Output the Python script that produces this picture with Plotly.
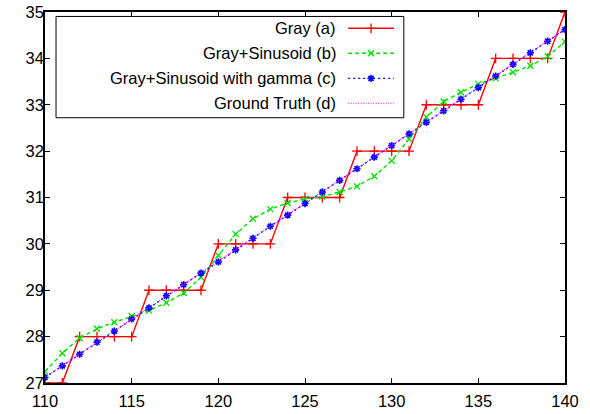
import plotly.graph_objects as go

# ---- data ----
x = list(range(110, 141))
gray = [27, 27, 28, 28, 28, 28, 29, 29, 29, 29, 30, 30, 30, 30, 31, 31, 31, 31,
        32, 32, 32, 32, 33, 33, 33, 33, 34, 34, 34, 34, 35]
gray_sin = [27.25, 27.64, 27.97, 28.17, 28.31, 28.44, 28.56, 28.73, 28.94, 29.28,
            29.75, 30.21, 30.54, 30.75, 30.88, 30.97, 31.02, 31.12, 31.24, 31.46,
            31.79, 32.26, 32.73, 33.07, 33.27, 33.45, 33.57, 33.70, 33.84, 34.04, 34.36]
gray_sin_gamma = [27.12, 27.37, 27.62, 27.88, 28.12, 28.38, 28.62, 28.88, 29.12, 29.37,
                  29.61, 29.87, 30.12, 30.38, 30.62, 30.87, 31.12, 31.37, 31.62, 31.87,
                  32.12, 32.37, 32.62, 32.87, 33.12, 33.37, 33.62, 33.87, 34.12, 34.37, 34.62]
ground_truth = [27.125, 27.375, 27.625, 27.875, 28.125, 28.375, 28.625, 28.875, 29.125, 29.375,
                29.625, 29.875, 30.125, 30.375, 30.625, 30.875, 31.125, 31.375, 31.625, 31.875,
                32.125, 32.375, 32.625, 32.875, 33.125, 33.375, 33.625, 33.875, 34.125, 34.375, 34.625]
names = ["Gray (a)", "Gray+Sinusoid (b)", "Gray+Sinusoid with gamma (c)", "Ground Truth (d)"]

# ---- styles ----
FONT = "Liberation Sans, Arial, Helvetica, sans-serif"
FSIZE = 16.5
styles = [
    dict(color="#ff0000", dash="solid", width=1.4, symbol="cross-thin", msize=7, mw=1.3),
    dict(color="#00e000", dash="4px,3px", width=1.4, symbol="x-thin", msize=6, mw=1.3),
    dict(color="#0000ff", dash="2px,3px", width=1.4, symbol="asterisk", msize=6, mw=1.6),
    dict(color="#ff00ff", dash="1px,1.5px", width=1.2, symbol=None, msize=0, mw=0),
]
series = [gray, gray_sin, gray_sin_gamma, ground_truth]

fig = go.Figure()
for ys, nm, st in zip(series, names, styles):
    mode = "lines+markers" if st["symbol"] else "lines"
    fig.add_trace(go.Scatter(
        x=x, y=ys, name=nm, mode=mode, showlegend=False,
        line=dict(color=st["color"], dash=st["dash"], width=st["width"]),
        marker=dict(symbol=st["symbol"] or "circle", size=st["msize"],
                    color=st["color"], line=dict(color=st["color"], width=st["mw"])),
        cliponaxis=True,
    ))

# ---- custom gnuplot-style legend (text left, sample right) ----
leg_rows = [0.956, 0.889, 0.821, 0.754]
leg_x0, leg_x1, leg_text_x = 0.583, 0.671, 0.5635
for row, nm, st in zip(leg_rows, names, styles):
    fig.add_trace(go.Scatter(
        x=[leg_x0, leg_x1], y=[row, row], xaxis="x2", yaxis="y2", mode="lines",
        showlegend=False, hoverinfo="skip",
        line=dict(color=st["color"], dash=st["dash"], width=st["width"]),
    ))
    if st["symbol"]:
        fig.add_trace(go.Scatter(
            x=[(leg_x0 + leg_x1) / 2], y=[row], xaxis="x2", yaxis="y2", mode="markers",
            showlegend=False, hoverinfo="skip",
            marker=dict(symbol=st["symbol"], size=st["msize"], color=st["color"],
                        line=dict(color=st["color"], width=st["mw"])),
        ))
    fig.add_annotation(x=leg_text_x, y=row, xref="paper", yref="paper", text=nm,
                       showarrow=False, xanchor="right", yanchor="middle",
                       font=dict(family=FONT, size=FSIZE, color="black"))

fig.add_shape(type="rect", xref="paper", yref="paper", x0=0.0212, x1=0.690, y0=0.715, y1=0.988,
              line=dict(color="black", width=1), fillcolor="rgba(0,0,0,0)")

axis_common = dict(showline=True, linecolor="black", linewidth=1.5, mirror="ticks",
                   ticks="inside", ticklen=5, tickcolor="black", tickwidth=1,
                   showgrid=False, zeroline=False,
                   tickfont=dict(family=FONT, size=FSIZE, color="black"))

fig.update_layout(
    width=590, height=414,
    margin=dict(l=45, r=25, t=12, b=31, autoexpand=False),
    paper_bgcolor="white", plot_bgcolor="white",
    xaxis=dict(range=[110, 140], dtick=5, tick0=110, ticklabelstandoff=2, **axis_common),
    yaxis=dict(range=[27, 35], dtick=1, tick0=27, ticklabelstandoff=-4, **axis_common),
    xaxis2=dict(range=[0, 1], overlaying="x", visible=False, anchor="y2"),
    yaxis2=dict(range=[0, 1], overlaying="y", visible=False, anchor="x2"),
    showlegend=False,
)

fig.write_html("out.html", config={"displayModeBar": False},
               post_script="document.body.style.margin='0';document.body.style.padding='0';")
